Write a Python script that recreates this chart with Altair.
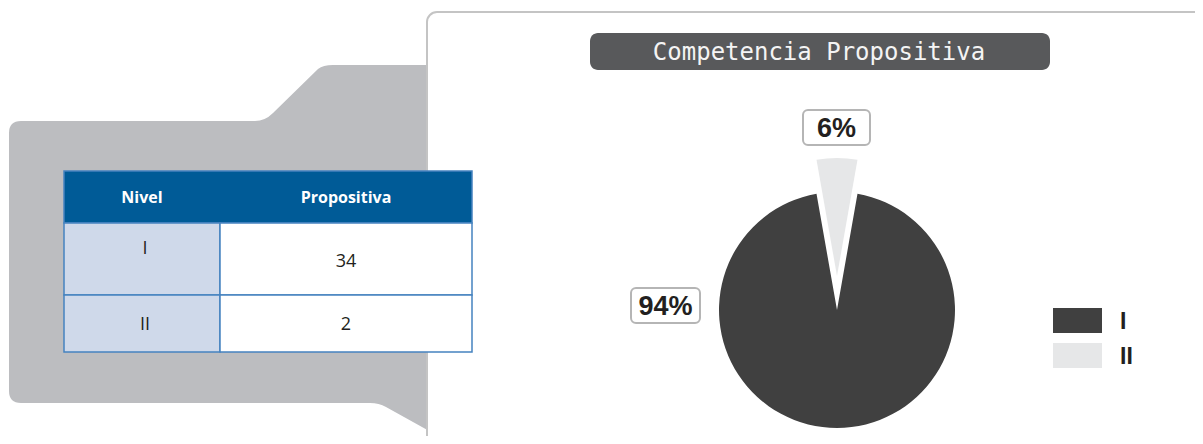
import math
import altair as alt
import pandas as pd

# ---- data ----
levels = ["I", "II"]
counts = [34, 2]
colors = ["#404040", "#e6e7e8"]
title_text = "Competencia Propositiva"
table_header = ["Nivel", "Propositiva"]

W, H = 1187, 428


def X(v):
    return v - 8


def Y(v):
    return v - 8


df = pd.DataFrame({"Nivel": levels, "count": counts, "order": list(range(len(levels)))})
one = alt.Data(values=[{"k": 1}])


def rect(x1, y1, x2, y2, fill, stroke=None, sw=0, r=0):
    kw = dict(fill=fill, cornerRadius=r)
    if stroke:
        kw.update(stroke=stroke, strokeWidth=sw)
    return alt.Chart(one).mark_rect(**kw).encode(
        x=alt.value(X(x1)), x2=alt.value(X(x2)), y=alt.value(Y(y1)), y2=alt.value(Y(y2))
    )


def path_of(cmds):
    out = []
    for c in cmds:
        if isinstance(c, str):
            out.append(c)
        else:
            out.append(f"{X(c[0])},{Y(c[1])}")
    return " ".join(out)


layers = []

# gray folder-like background panel
gray_path = path_of([
    "M", (21, 121), "L", (255, 121), "Q", (265, 121), (273, 113), "L", (318, 69),
    "Q", (323, 65), (333, 65), "L", (440, 65), "L", (440, 437), "L", (386, 407),
    "Q", (379, 403), (370, 403), "L", (21, 403), "Q", (9, 403), (9, 391),
    "L", (9, 133), "Q", (9, 121), (21, 121), "Z",
])
layers.append(
    alt.Chart(one).mark_point(shape=gray_path, size=4, filled=True, fill="#bcbdc0",
                              opacity=1, strokeWidth=0)
    .encode(x=alt.value(0), y=alt.value(0))
)

# white panel
layers.append(rect(427, 12, 1215, 450, "white", stroke="#c4c4c4", sw=2, r=10))

# title box
layers.append(rect(590, 33, 1050, 70, "#58595b", r=8))
layers.append(
    alt.Chart(alt.Data(values=[{"t": title_text}])).mark_text(
        font="DejaVu Sans Mono", fontSize=24, color="#f4f4f4", align="center", baseline="middle"
    ).encode(text="t:N", x=alt.value(X(819)), y=alt.value(Y(53)))
)

# pie
start = math.pi * counts[1] / sum(counts)
theta = alt.Theta("count:Q", stack=True, scale=alt.Scale(range=[start, start + 2 * math.pi]))
color = alt.Color("Nivel:N", scale=alt.Scale(domain=levels, range=colors), legend=None)
pie_centers = {"I": (837, 310), "II": (837, 276)}
for lvl, (cx, cy) in pie_centers.items():
    layers.append(
        alt.Chart(df).mark_arc(radius=118).encode(
            theta=theta,
            color=color,
            order=alt.Order("order:Q"),
            x=alt.value(X(cx)),
            y=alt.value(Y(cy)),
            opacity=alt.when(alt.datum.Nivel == lvl).then(alt.value(1)).otherwise(alt.value(0)),
        )
    )

# percentage labels
label_boxes = {"II": (803, 110, 870, 145), "I": (631, 288, 700, 323)}
for lvl, (x1, y1, x2, y2) in label_boxes.items():
    layers.append(rect(x1, y1, x2, y2, "white", stroke="#b5b5b5", sw=2, r=5))
    layers.append(
        alt.Chart(df)
        .transform_joinaggregate(total="sum(count)")
        .transform_calculate(pct="format(datum.count / datum.total, '.0%')")
        .transform_filter(alt.datum.Nivel == lvl)
        .mark_text(font="Liberation Sans", fontWeight="bold", fontSize=27, color="#231f20",
                   align="center", baseline="middle")
        .encode(text="pct:N", x=alt.value(X((x1 + x2) / 2)), y=alt.value(Y((y1 + y2) / 2 + 1)))
    )

# legend
legend_rows = {"I": 320.5, "II": 355.5}
for lvl, cy in legend_rows.items():
    layers.append(
        alt.Chart(df).transform_filter(alt.datum.Nivel == lvl)
        .mark_point(shape="M-24.5,-12.5H24.5V12.5H-24.5Z", size=4, filled=True, opacity=1, strokeWidth=0)
        .encode(color=color, x=alt.value(X(1077.5)), y=alt.value(Y(cy)))
    )
    layers.append(
        alt.Chart(df).transform_filter(alt.datum.Nivel == lvl)
        .mark_text(font="Liberation Sans", fontWeight="bold", fontSize=23, color="#231f20",
                   align="left", baseline="middle")
        .encode(text="Nivel:N", x=alt.value(X(1120)), y=alt.value(Y(cy + 1)))
    )

# table
border = "#4683c0"
layers.append(rect(64, 171, 472, 223, "#005b97", stroke=border, sw=1.5))
row_bounds = {"I": (223, 295), "II": (295, 352)}
for lvl, (y1, y2) in row_bounds.items():
    layers.append(rect(64, y1, 220, y2, "#cfd9ea", stroke=border, sw=1.5))
    layers.append(rect(220, y1, 472, y2, "white", stroke=border, sw=1.5))

header_df = pd.DataFrame({"h": table_header, "col": list(range(len(table_header)))})
col_centers = [142, 346]
for i, cx in enumerate(col_centers):
    layers.append(
        alt.Chart(header_df).transform_filter(alt.datum.col == i)
        .mark_text(font="Open Sans", fontWeight="bold", fontSize=16, color="white",
                   align="center", baseline="middle")
        .encode(text="h:N", x=alt.value(X(cx)), y=alt.value(Y(198)))
    )

text_rows = {"I": (249, 262), "II": (325, 325)}
for lvl, (ya, yb) in text_rows.items():
    base = alt.Chart(df).transform_filter(alt.datum.Nivel == lvl)
    layers.append(
        base.mark_text(font="Open Sans", fontSize=18, color="#231f20", align="center", baseline="middle")
        .encode(text="Nivel:N", x=alt.value(X(145)), y=alt.value(Y(ya)))
    )
    layers.append(
        base.mark_text(font="Open Sans", fontSize=18, color="#231f20", align="center", baseline="middle")
        .encode(text="count:Q", x=alt.value(X(346)), y=alt.value(Y(yb)))
    )

chart = (
    alt.layer(*layers)
    .properties(width=W, height=H, padding=0, autosize="none", background="white")
    .configure_view(stroke=None)
)

chart.save("out.html", embed_options={"renderer": "svg", "actions": False})
